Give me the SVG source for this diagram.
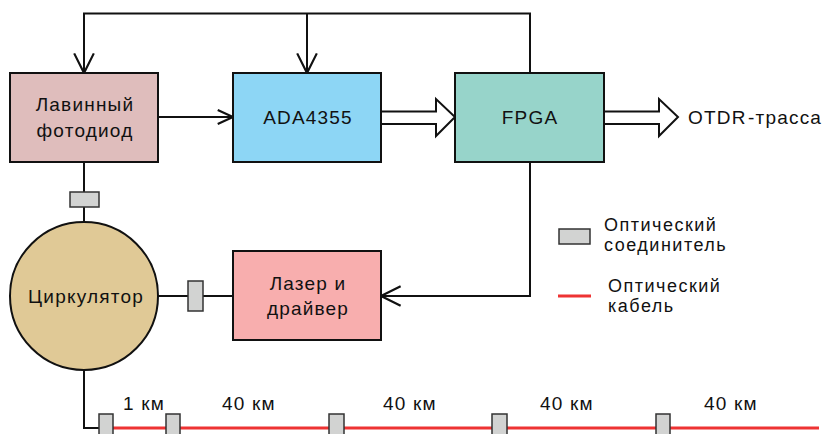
<svg xmlns="http://www.w3.org/2000/svg" width="824" height="434" viewBox="0 0 824 434">
<defs>
<style>
.box{stroke:#111;stroke-width:2}
.ln{fill:none;stroke:#111;stroke-width:2}
.conn{fill:#d2d3d2;stroke:#333;stroke-width:1.5}
.cab{fill:none;stroke:#ee3333;stroke-width:3}
text{font-family:"Liberation Sans",Arial,sans-serif;font-size:19px;fill:#111;letter-spacing:1.2px}
.c{text-anchor:middle}
.lg{font-size:18px;letter-spacing:1.5px}
</style>
<marker id="ah" markerUnits="userSpaceOnUse" markerWidth="24" markerHeight="24" viewBox="-20 -10 22 20" refX="0" refY="0" orient="auto">
<path d="M-18,-9 L0,0 L-18,9" fill="none" stroke="#111" stroke-width="2"/>
</marker>
<marker id="ahs" markerUnits="userSpaceOnUse" markerWidth="24" markerHeight="24" viewBox="-20 -10 22 20" refX="0" refY="0" orient="auto">
<path d="M-14,-6.5 L0,0 L-14,6.5" fill="none" stroke="#111" stroke-width="2"/>
</marker>
</defs>
<rect width="824" height="434" fill="#fff"/>
<g id="connectors">
<path class="ln" d="M530,73 V13.5 H84 V73" marker-end="url(#ah)"/>
<path class="ln" d="M307,13.5 V73" marker-end="url(#ah)"/>
<path class="ln" d="M158,117 H233" marker-end="url(#ahs)"/>
<path class="ln" d="M530,162 V296 H381" marker-end="url(#ah)"/>
<path class="ln" d="M84,162 V222"/>
<path class="ln" d="M158,296 H233"/>
<path class="ln" d="M84,370 V428 H100"/>
<polygon points="381,111.5 436,111.5 436,99 455,117 436,136 436,124 381,124" fill="#fff" stroke="#111" stroke-width="2"/>
<polygon points="604,111.5 659,111.5 659,99 678,117 659,136 659,124 604,124" fill="#fff" stroke="#111" stroke-width="2"/>
<path class="cab" d="M106,428 H819"/>
</g>
<g id="apd">
<rect class="box" x="10" y="73" width="148" height="89" fill="#dfbdbc"/>
<text class="c" x="85" y="111">Лавинный</text>
<text class="c" x="85" y="137">фотодиод</text>
</g>
<g id="ada">
<rect class="box" x="233" y="73" width="148" height="89" fill="#8dd6f5"/>
<text class="c" x="308" y="124">ADA4355</text>
</g>
<g id="fpga">
<rect class="box" x="455" y="73" width="149" height="89" fill="#97d4ca"/>
<text class="c" x="530" y="124">FPGA</text>
</g>
<g id="otdr">
<text y="124"><tspan x="688">OTDR</tspan> <tspan x="748">-трасса</tspan></text>
</g>
<g id="laser">
<rect class="box" x="233" y="251" width="148" height="89" fill="#f8aeae"/>
<text class="c" x="308" y="290">Лазер и</text>
<text class="c" x="308" y="315">драйвер</text>
</g>
<g id="circulator">
<circle cx="84" cy="296" r="74" fill="#e0c996" stroke="#111" stroke-width="2"/>
<text class="c" x="86" y="303">Циркулятор</text>
</g>
<g id="connectors-optical">
<rect class="conn" x="70" y="192" width="29" height="15"/>
<rect class="conn" x="188" y="281" width="15" height="30"/>
<rect class="conn" x="99" y="414" width="14" height="30"/>
<rect class="conn" x="166" y="414" width="14" height="30"/>
<rect class="conn" x="329" y="414" width="15" height="30"/>
<rect class="conn" x="492" y="414" width="15" height="30"/>
<rect class="conn" x="656" y="414" width="14" height="30"/>
</g>
<g id="distances">
<text x="123" y="410">1 км</text>
<text x="222" y="410">40 км</text>
<text x="383" y="410">40 км</text>
<text x="540" y="410">40 км</text>
<text x="704" y="410">40 км</text>
</g>
<g id="legend">
<rect class="conn" x="559" y="229" width="31" height="15"/>
<text class="lg" x="604" y="230.5">Оптический</text>
<text class="lg" x="604" y="251">соединитель</text>
<path class="cab" d="M558,296 H591"/>
<text class="lg" x="608" y="291.5">Оптический</text>
<text class="lg" x="608" y="312">кабель</text>
</g>
</svg>
